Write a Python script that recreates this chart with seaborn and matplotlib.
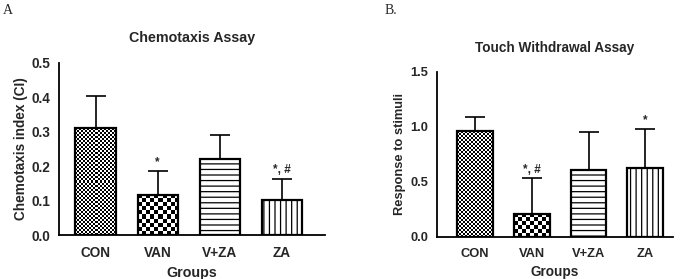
import matplotlib
matplotlib.use('Agg')
import matplotlib.pyplot as plt
import seaborn as sns
import pandas as pd
import numpy as np

# Data
groups = ["CON", "VAN", "V+ZA", "ZA"]
ci_mean = [0.31, 0.117, 0.222, 0.103]
ci_err = [0.095, 0.069, 0.068, 0.059]
ci_marks = ["", "*", "", "*, #"]

touch_mean = [0.96, 0.21, 0.61, 0.625]
touch_err = [0.13, 0.32, 0.345, 0.355]
touch_marks = ["", "*, #", "", "*"]

# fill style per group: checker cell size in px, or a hatch string
fills = [("checker", 2), ("checker", 4), ("hatch", "---"), ("hatch", "|||")]

sns.set_style("white")
plt.rcParams['font.family'] = ['Liberation Sans', 'DejaVu Sans']
plt.rcParams['hatch.linewidth'] = 0.9
plt.rcParams['hatch.color'] = 'black'

fig = plt.figure(figsize=(6.85, 2.79), dpi=100)
ax1 = fig.add_axes([0.0861, 0.1577, 0.388, 0.617])
ax2 = fig.add_axes([0.6375, 0.1516, 0.3445, 0.5914])


def checker_fill(ax, bar, cell):
    # checkerboard image clipped to the bar outline
    x0, y0, x1, y1 = bar.get_bbox().extents
    (px0, py0), (px1, py1) = ax.transData.transform([(x0, y0), (x1, y1)])
    nx = max(1, int(round((px1 - px0) / cell)))
    ny = max(1, int(round((py1 - py0) / cell)))
    board = (np.add.outer(np.arange(ny), np.arange(nx)) % 2).astype(float)
    im = ax.imshow(board, extent=(x0, x1, y0, y1), cmap="gray", vmin=0, vmax=1,
                   interpolation="nearest", aspect="auto", zorder=2.9)
    im.set_clip_path(bar)
    bar.set_facecolor("none")


def draw_panel(ax, mean, err, marks, title, ylabel, ymax, step, width, xlim, fs, tpad):
    df = pd.DataFrame({"group": groups, "value": mean})
    sns.barplot(data=df, x="group", y="value", color="white", edgecolor="black",
                linewidth=1.6, width=width, errorbar=None, ax=ax, zorder=3)
    ax.set_ylim(0, ymax)
    ax.set_xlim(*xlim)
    for bar, (kind, val) in zip(list(ax.patches), fills):
        if kind == "hatch":
            bar.set_hatch(val)
        else:
            checker_fill(ax, bar, val)
    ax.set_ylim(0, ymax)
    ax.set_xlim(*xlim)
    ax.errorbar(range(len(groups)), mean, yerr=[[0] * len(err), err], fmt="none",
                ecolor="black", elinewidth=1.2, capsize=7.5, capthick=1.2, zorder=2)
    for i, (m, e, t) in enumerate(zip(mean, err, marks)):
        if t:
            ax.annotate(t, (i, m + e), xytext=(0, 2), textcoords="offset points",
                        ha="center", va="bottom", fontsize=8.5, fontweight="bold")
    ax.set_yticks([round(step * k, 2) for k in range(int(round(ymax / step)) + 1)])
    ax.yaxis.set_major_formatter(matplotlib.ticker.FormatStrFormatter("%.1f"))
    ax.set_title(title, fontsize=fs + 0.5, fontweight="bold", pad=tpad)
    ax.set_xlabel("Groups", fontsize=fs + 0.5, fontweight="bold", labelpad=4)
    ax.set_ylabel(ylabel, fontsize=fs, fontweight="bold", labelpad=3)
    sns.despine(ax=ax)
    for s in ["left", "bottom"]:
        ax.spines[s].set_linewidth(1.3)
        ax.spines[s].set_color("black")
    ax.tick_params(axis="both", direction="out", length=4, width=1.3,
                   color="black", labelsize=fs, pad=2)
    ax.tick_params(axis="x", length=5, pad=3)
    for lab in ax.get_xticklabels() + ax.get_yticklabels():
        lab.set_fontweight("bold")


draw_panel(ax1, ci_mean, ci_err, ci_marks, "Chemotaxis Assay",
           "Chemotaxis index (CI)", 0.5, 0.1, 0.65, (-0.59, 3.69), 9.8, 15)
draw_panel(ax2, touch_mean, touch_err, touch_marks, "Touch Withdrawal Assay",
           "Response to stimuli", 1.5, 0.5, 0.63, (-0.67, 3.48), 9.3, 14)

fig.text(0.004, 0.985, "A", family="Liberation Serif", fontsize=10, va="top")
fig.text(0.562, 0.985, "B.", family="Liberation Serif", fontsize=10, va="top")

fig.savefig("out.png", dpi=100)
plt.close(fig)
